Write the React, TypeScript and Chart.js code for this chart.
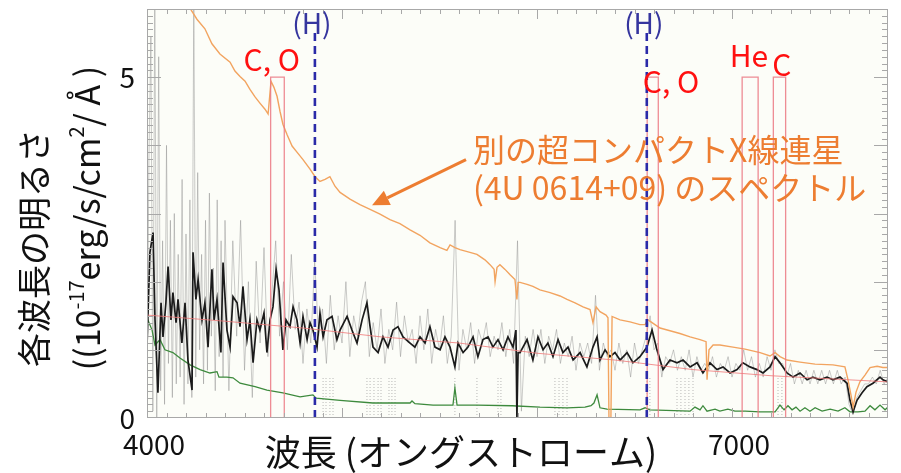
import React, { useEffect, useRef } from "react";
import { Chart, registerables } from "chart.js";

Chart.register(...registerables);

// ---- axes ----
const X_MIN = 4000;
const X_MAX = 7800;
const Y_MIN = 0;
const Y_MAX = 6;
const xTickLabels = [4000, 7000];
const yTickLabels = [0, 5];

// ---- observed spectrum (smoothed, black) ----
const blackWave = [4000,4015,4031,4041,4056,4072,4082,4097,4108,4123,4133,4149,4159,4179,4195,4210,4231,4236,4251,4262,4282,4297,4313,4333,4344,4359,4379,4390,4410,4426,4441,4462,4477,4492,4513,4528,4544,4564,4579,4600,4615,4631,4646,4662,4677,4697,4713,4733,4749,4769,4785,4800,4821,4836,4851,4872,4887,4903,4923,4949,4974,4990,5026,5051,5077,5103,5128,5144,5159,5185,5210,5236,5262,5287,5313,5349,5374,5400,5426,5451,5477,5503,5528,5554,5579,5595,5621,5646,5672,5697,5723,5749,5774,5800,5826,5851,5877,5892,5897,5903,5913,5949,5979,6005,6031,6056,6082,6108,6133,6159,6185,6221,6256,6287,6308,6323,6349,6374,6400,6426,6462,6492,6528,6564,6590,6615,6646,6682,6718,6749,6785,6821,6851,6887,6923,6954,6990,7026,7056,7092,7128,7159,7195,7221,7246,7282,7313,7349,7385,7415,7451,7487,7518,7554,7590,7605,7621,7641,7667,7692,7723,7759,7774,7800];
const blackFlux = [1.05,2.43,2.72,1.44,0.37,1.69,1.19,1.69,2.22,1.44,1.84,1.40,1.74,1.10,1.69,0.85,0.41,2.43,1.74,2.03,1.44,1.69,1.04,2.18,1.44,1.74,0.96,2.28,1.29,1.04,1.78,1.69,1.34,1.93,1.15,1.44,0.81,1.44,1.29,1.54,0.96,1.44,1.63,2.18,1.88,1.00,1.44,1.34,1.63,1.44,1.10,1.49,1.15,1.40,1.29,1.04,1.54,1.19,1.44,1.49,1.15,1.29,1.49,1.29,1.10,1.44,1.69,1.34,1.04,0.96,1.19,1.04,1.29,1.34,1.19,1.10,1.04,1.19,1.10,1.34,1.04,1.00,1.19,1.04,0.75,1.10,0.96,1.04,1.19,0.90,1.15,1.19,1.04,1.15,1.00,1.19,1.04,1.29,0.0,0.96,0.96,1.15,0.85,1.19,1.00,1.10,0.90,1.15,0.96,1.04,0.85,0.96,0.75,1.04,1.19,0.85,1.00,0.90,0.96,0.85,0.96,0.81,0.90,1.04,1.29,1.00,0.71,0.85,0.81,0.85,0.75,0.81,0.66,0.81,0.71,0.75,0.66,0.71,0.81,0.75,0.71,0.66,0.75,0.90,0.81,0.66,0.60,0.66,0.56,0.60,0.56,0.60,0.56,0.60,0.51,0.26,0.09,0.26,0.37,0.46,0.51,0.60,0.56,0.53];

// ---- raw spectrum (grey): 10 Å grid 4000–4390, then 20 Å grid from 4400 ----
const grayBlueStart = 4000;
const grayBlueStep = 10;
const grayBlueFlux = [
  0.3,3.8,5.6,0.1,6.3,0.0,5.3,0.4,2.6,0.2,
  4.0,0.8,2.9,0.3,3.0,0.5,2.4,0.6,3.5,0.2,
  2.7,0.5,3.2,0.3,6.2,0.6,3.6,1.0,2.4,0.5,
  2.9,0.7,3.3,1.2,2.2,0.4,3.2,0.9,2.6,0.6
];
const grayStart = 4400;
const grayStep = 20;
const grayFlux = [
  2.9,0.4,2.6,1.2,2.9,0.7,2.0,0.3,2.3,1.1,
  2.5,0.9,1.8,2.6,1.2,2.0,1.0,2.4,1.3,1.7,
  0.8,1.6,1.1,2.3,1.2,1.6,0.8,1.8,1.0,1.5,
  1.1,2.0,0.9,1.5,1.2,1.7,2.0,0.9,1.4,1.0,
  1.6,0.8,1.3,1.0,1.7,0.9,1.5,1.1,1.3,0.8,
  1.5,1.0,1.6,0.8,1.3,1.0,1.5,0.8,1.2,2.9,
  0.7,1.3,1.0,1.4,0.8,1.3,1.1,1.4,0.9,1.2,
  1.0,1.4,0.9,1.3,0.8,2.6,0.1,1.2,0.9,1.3,
  0.9,1.3,0.8,1.2,1.0,1.3,0.8,1.1,0.9,1.2,
  0.7,1.1,0.9,1.1,0.8,1.8,0.7,1.1,0.9,1.0,
  0.7,1.1,0.8,1.0,0.6,1.1,0.8,1.0,1.2,1.5,
  1.0,1.1,0.6,0.9,0.8,1.0,0.7,0.9,0.7,1.0,
  0.6,0.9,0.7,0.8,0.7,0.9,0.6,0.8,0.7,0.9,
  0.6,0.8,0.7,1.0,0.7,0.9,0.6,0.8,0.6,0.9,
  0.7,1.0,0.8,0.8,0.6,0.8,0.5,0.7,0.5,0.7,
  0.5,0.7,0.5,0.7,0.5,0.7,0.5,0.7,0.5,0.6,
  0.2,0.05,0.3,0.4,0.5,0.5,0.6,0.5,0.7,0.5,
  0.6
];

// ---- comparison spectrum 4U 0614+09 (orange) ----
const orangeWave = [4195,4221,4256,4297,4333,4374,4426,4451,4477,4503,4528,4554,4579,4605,4621,4636,4651,4667,4682,4697,4718,4744,4769,4800,4836,4862,4887,4913,4938,4964,4990,5041,5092,5144,5195,5246,5297,5349,5400,5451,5503,5538,5554,5579,5605,5656,5692,5733,5759,5780,5785,5795,5810,5836,5862,5887,5897,5903,5913,5949,5979,6015,6067,6118,6154,6195,6236,6272,6287,6303,6323,6354,6364,6369,6379,6385,6426,6477,6528,6554,6569,6605,6631,6682,6733,6785,6836,6867,6872,6882,6903,6938,7005,7067,7144,7195,7221,7246,7282,7349,7426,7518,7579,7595,7610,7621,7636,7656,7682,7708,7744,7774,7800];
const orangeFlux = [6.15,6.01,5.85,5.71,5.49,5.34,5.22,5.09,5.01,4.94,4.82,4.71,4.62,4.53,4.46,4.94,4.85,4.72,4.50,4.31,4.16,3.99,3.90,3.79,3.65,3.54,3.47,3.50,3.54,3.40,3.31,3.21,3.13,3.06,2.99,2.91,2.85,2.76,2.68,2.57,2.50,2.46,2.54,2.50,2.47,2.43,2.40,2.32,2.25,2.18,2.00,2.21,2.25,2.18,2.10,2.03,1.74,1.99,1.99,1.96,1.93,1.88,1.84,1.79,1.74,1.69,1.63,1.59,1.40,1.63,1.56,1.51,1.47,0.0,0.0,1.49,1.44,1.41,1.37,1.37,1.44,1.37,1.32,1.28,1.24,1.19,1.15,1.12,0.56,1.00,1.07,1.07,1.04,1.01,0.96,0.91,0.96,0.90,0.85,0.82,0.79,0.78,0.75,0.56,0.34,0.16,0.38,0.53,0.63,0.74,0.76,0.74,0.74];

// ---- error / sky spectrum (green) ----
const greenWave = [4000,4026,4041,4067,4092,4133,4169,4221,4272,4323,4359,4369,4410,4441,4477,4554,4615,4697,4785,4851,4867,4990,5159,5349,5359,5374,5467,5569,5579,5590,5692,5872,6015,6154,6246,6277,6292,6308,6323,6359,6528,6554,6579,6785,6810,6836,6851,6872,6913,6938,6979,7015,7067,7144,7221,7246,7267,7287,7308,7328,7349,7374,7400,7426,7462,7503,7544,7579,7605,7646,7682,7708,7733,7759,7785,7800];
const greenFlux = [1.47,1.29,1.07,1.15,1.00,0.96,0.88,0.78,0.71,0.66,0.68,0.60,0.60,0.59,0.51,0.46,0.41,0.37,0.31,0.34,0.29,0.26,0.22,0.22,0.25,0.21,0.19,0.19,0.44,0.19,0.19,0.18,0.16,0.15,0.16,0.18,0.22,0.34,0.15,0.13,0.12,0.15,0.12,0.10,0.16,0.12,0.18,0.10,0.13,0.10,0.13,0.10,0.10,0.09,0.09,0.19,0.12,0.18,0.12,0.16,0.10,0.15,0.10,0.15,0.10,0.13,0.10,0.15,0.09,0.09,0.10,0.18,0.12,0.19,0.12,0.16];

// ---- continuum model (thin pink) ----
const contWave = [4000,4400,4800,5200,5600,6000,6400,6800,7200,7600,7800];
const contFlux = [1.51,1.42,1.32,1.19,1.10,0.95,0.85,0.71,0.62,0.56,0.53];

// ---- emission-line bands ----
const bandLo = [4634, 6565, 7052, 7212];
const bandHi = [4704, 6622, 7134, 7275];
const bandTop = 5.0;
const bandText = ["C, O", "C, O", "He", "C"];
const bandTextWave = [4640, 6687, 7087, 7256];
const bandTextFlux = [5.26, 4.94, 5.32, 5.18];

// ---- hydrogen positions ----
const hWave = [4861, 6563];
const hTop = 5.66;
const hTextFlux = 5.8;

// ---- line-list markers (dotted) ----
const markerWave = [4903,4918,4938,4954,5128,5144,5164,5185,5200,5241,5256,5272,5579,5692,5800,5815,6092,6113,6133,6154,6564,6579,6718,6738,6759,6779,6800,7236,7256];
const markerTop = 0.6;

// ---- annotation ----
const noteLines = ["別の超コンパクトX線連星", "(4U 0614+09) のスペクトル"];
const noteWave = 5672;
const noteFlux = [3.94, 3.38];
const arrowTail = { x: 5636, y: 3.79 };
const arrowHead = { x: 5154, y: 3.12 };

const CJK = "'Noto Sans CJK JP', 'Noto Sans', sans-serif";

const decor = {
  id: "decor",
  beforeDatasetsDraw(chart: any) {
    const { ctx, chartArea: a } = chart;
    ctx.save();
    ctx.fillStyle = "#fcfdf8";
    ctx.fillRect(a.left, a.top, a.right - a.left, a.bottom - a.top);
    ctx.restore();
  },
  afterDatasetsDraw(chart: any) {
    const { ctx, chartArea: a } = chart;
    const xs = chart.scales.x;
    const ys = chart.scales.y;
    ctx.save();
    // frame
    ctx.strokeStyle = "#a8a8a8";
    ctx.lineWidth = 1;
    ctx.strokeRect(a.left + 0.5, a.top + 0.5, a.right - a.left - 1, a.bottom - a.top - 1);
    ctx.beginPath();
    for (let w = X_MIN + 100; w < X_MAX; w += 100) {
      const px = Math.round(xs.getPixelForValue(w)) + 0.5;
      const len = w % 1000 === 0 ? 10 : 5;
      ctx.moveTo(px, a.bottom); ctx.lineTo(px, a.bottom - len);
      ctx.moveTo(px, a.top); ctx.lineTo(px, a.top + len);
    }
    for (let i = 1; i < 60; i++) {
      const v = i / 10;
      const py = Math.round(ys.getPixelForValue(v)) + 0.5;
      const len = i % 10 === 0 ? 14 : 6;
      ctx.moveTo(a.left, py); ctx.lineTo(a.left + len, py);
      ctx.moveTo(a.right, py); ctx.lineTo(a.right - len, py);
    }
    ctx.stroke();

    // (H) labels
    ctx.fillStyle = "#35359e";
    ctx.font = `28px ${CJK}`;
    ctx.textAlign = "center";
    ctx.textBaseline = "middle";
    hWave.forEach((w) => {
      ctx.fillText("(H)", xs.getPixelForValue(w) - 3, ys.getPixelForValue(hTextFlux) + 1);
    });

    // band labels
    ctx.fillStyle = "#ff1010";
    ctx.font = `30px ${CJK}`;
    bandText.forEach((t, i) => {
      ctx.fillText(t, xs.getPixelForValue(bandTextWave[i]), ys.getPixelForValue(bandTextFlux[i]));
    });

    // orange note
    ctx.fillStyle = "#ED7D31";
    ctx.font = `32px ${CJK}`;
    ctx.textAlign = "left";
    noteLines.forEach((t, i) => {
      ctx.fillText(t, xs.getPixelForValue(noteWave), ys.getPixelForValue(noteFlux[i]));
    });
    // arrow
    const tx = xs.getPixelForValue(arrowTail.x), ty = ys.getPixelForValue(arrowTail.y);
    const hx = xs.getPixelForValue(arrowHead.x), hy = ys.getPixelForValue(arrowHead.y);
    const ang = Math.atan2(hy - ty, hx - tx);
    const hl = 17, hw = 8;
    const bx = hx - hl * Math.cos(ang), by = hy - hl * Math.sin(ang);
    ctx.strokeStyle = "#ED7D31";
    ctx.lineWidth = 3;
    ctx.beginPath(); ctx.moveTo(tx, ty); ctx.lineTo(bx, by); ctx.stroke();
    ctx.beginPath();
    ctx.moveTo(hx, hy);
    ctx.lineTo(bx + hw * Math.sin(ang), by - hw * Math.cos(ang));
    ctx.lineTo(bx - hw * Math.sin(ang), by + hw * Math.cos(ang));
    ctx.closePath(); ctx.fill();

    // x title
    ctx.fillStyle = "#111";
    ctx.font = `36px ${CJK}`;
    ctx.textAlign = "center";
    ctx.fillText("波長 (オングストローム)", 461, 452);

    // y title, line 1
    ctx.save();
    ctx.translate(34, 248);
    ctx.rotate(-Math.PI / 2);
    ctx.font = `34px ${CJK}`;
    ctx.fillText("各波長の明るさ", 0, 0);
    ctx.restore();

    // y title, line 2 with superscripts
    const segs = [
      { t: "((10", f: `34px ${CJK}`, dy: 0 },
      { t: "-17", f: `20px ${CJK}`, dy: -11 },
      { t: "erg/s/cm", f: `34px ${CJK}`, dy: 0 },
      { t: "2", f: `20px ${CJK}`, dy: -11 },
      { t: "/ Å )", f: `34px ${CJK}`, dy: 0 },
    ];
    ctx.save();
    ctx.translate(87, 218);
    ctx.rotate(-Math.PI / 2);
    ctx.textAlign = "left";
    const widths = segs.map((s) => { ctx.font = s.f; return ctx.measureText(s.t).width; });
    let cx = -widths.reduce((p, c) => p + c, 0) / 2;
    segs.forEach((s, i) => { ctx.font = s.f; ctx.fillText(s.t, cx, s.dy); cx += widths[i]; });
    ctx.restore();

    ctx.restore();
  },
};

export default function App() {
  const ref = useRef<HTMLCanvasElement | null>(null);

  useEffect(() => {
    if (!ref.current) return;
    const pts = (xw: number[], yf: number[]) => xw.map((x, i) => ({ x, y: yf[i] }));
    const grayPts = [
      ...grayBlueFlux.map((y, i) => ({ x: grayBlueStart + i * grayBlueStep, y })),
      ...grayFlux.map((y, i) => ({ x: grayStart + i * grayStep, y })),
    ];
    const markerPts: any[] = [];
    markerWave.forEach((w) => {
      markerPts.push({ x: w, y: 0 }, { x: w, y: markerTop }, { x: w, y: null });
    });
    const base = { pointRadius: 0, tension: 0, fill: false };
    const datasets: any[] = [];
    hWave.forEach((w) => {
      datasets.push({ ...base, data: [{ x: w, y: 0 }, { x: w, y: hTop }], borderColor: "#2a2aa8", borderWidth: 2.6, borderDash: [8, 5], order: 0 });
    });
    bandLo.forEach((lo, i) => {
      datasets.push({ ...base, data: [{ x: lo, y: 0 }, { x: lo, y: bandTop }, { x: bandHi[i], y: bandTop }, { x: bandHi[i], y: 0 }], borderColor: "rgba(235,120,130,0.85)", borderWidth: 1.3, order: 1 });
    });
    datasets.push({ ...base, data: pts(contWave, contFlux), borderColor: "rgba(240,120,120,0.8)", borderWidth: 1, order: 2 });
    datasets.push({ ...base, data: pts(orangeWave, orangeFlux), borderColor: "#f2a460", borderWidth: 1.4, order: 3 });
    datasets.push({ ...base, data: pts(blackWave, blackFlux), borderColor: "#1b1b1b", borderWidth: 1.7, order: 4 });
    datasets.push({ ...base, data: pts(greenWave, greenFlux), borderColor: "#3d8a3d", borderWidth: 1.3, order: 5 });
    datasets.push({ ...base, data: markerPts, borderColor: "rgba(120,120,120,0.5)", borderWidth: 1, borderDash: [1, 2], spanGaps: false, order: 6 });
    datasets.push({ ...base, data: grayPts, borderColor: "rgba(140,140,140,0.45)", borderWidth: 1, order: 7 });

    const tickFont = { family: "'Noto Sans CJK JP', sans-serif", size: 28 };
    const chart = new Chart(ref.current, {
      type: "line",
      data: { datasets },
      options: {
        animation: false,
        responsive: false,
        devicePixelRatio: 1,
        layout: { padding: { top: 9, right: 13, left: 0, bottom: 0 } },
        plugins: { legend: { display: false }, tooltip: { enabled: false } },
        scales: {
          x: {
            type: "linear",
            min: X_MIN,
            max: X_MAX,
            afterBuildTicks: (s: any) => { s.ticks = xTickLabels.map((v) => ({ value: v })); },
            afterFit: (s: any) => { s.height = 55; s.paddingLeft = 0; s.paddingRight = 0; },
            grid: { display: false, drawTicks: false },
            border: { display: false },
            ticks: { padding: 10, labelOffset: 7, color: "#111", font: tickFont, maxRotation: 0, autoSkip: false, callback: (v: any) => String(v) },
          },
          y: {
            type: "linear",
            min: Y_MIN,
            max: Y_MAX,
            afterBuildTicks: (s: any) => { s.ticks = yTickLabels.map((v) => ({ value: v })); },
            afterFit: (s: any) => { s.width = 147; s.paddingTop = 0; s.paddingBottom = 0; },
            grid: { display: false, drawTicks: false },
            border: { display: false },
            ticks: { padding: 12, color: "#111", font: tickFont, autoSkip: false, callback: (v: any) => String(v) },
          },
        },
      } as any,
      plugins: [decor],
    });
    return () => chart.destroy();
  }, []);

  return (
    <div style={{ position: "fixed", left: 0, top: 0, width: 901, height: 473, background: "#fff" }}>
      <canvas ref={ref} width={901} height={473} style={{ display: "block", width: 901, height: 473 }} />
    </div>
  );
}
